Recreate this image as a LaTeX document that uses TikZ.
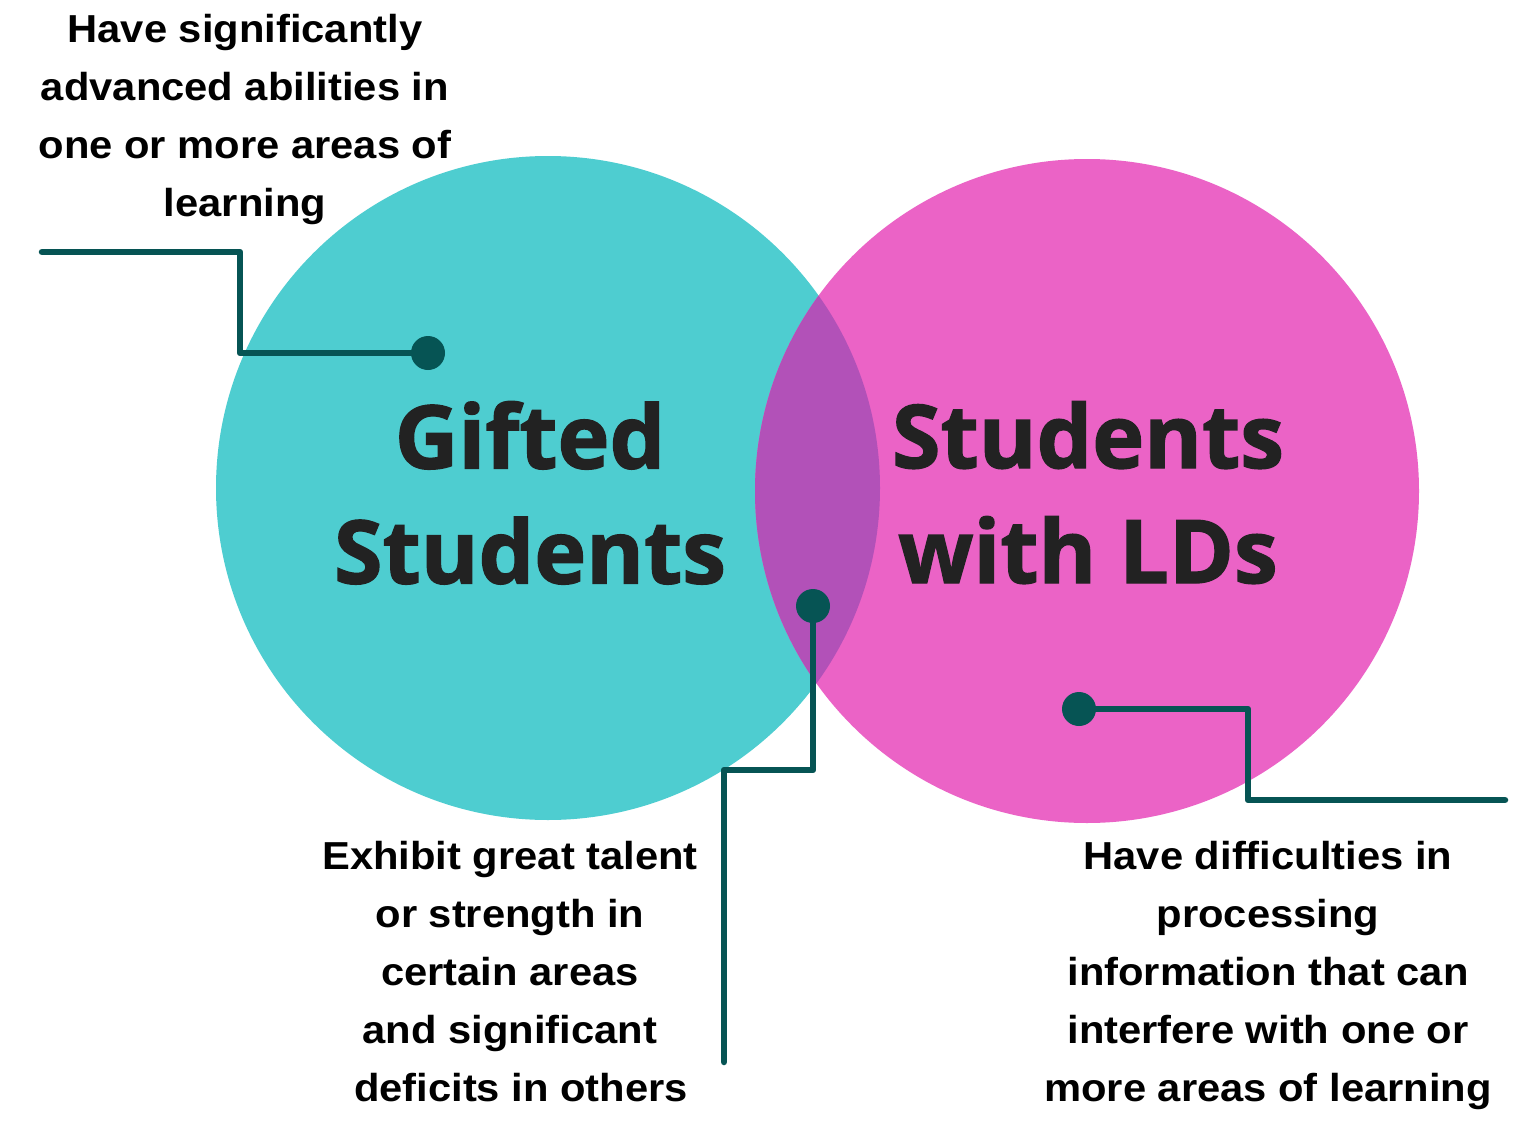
\documentclass[tikz,border=0pt]{standalone}
\usepackage{fontspec}
\setmainfont[FakeStretch=1.07]{Liberation Sans}
\newfontfamily\titlefont[FakeBold=1.5]{Open Sans}
\definecolor{tealc}{HTML}{4ECDD0}
\definecolor{pinkc}{HTML}{EB63C6}
\definecolor{overc}{HTML}{B251B8}
\definecolor{linec}{HTML}{065454}
\definecolor{titlec}{HTML}{222222}
\begin{document}
\begin{tikzpicture}[x=1pt,y=-1pt,
  circ/.style={circle,inner sep=0pt,minimum size=664pt},
  dotn/.style={circle,fill=linec,inner sep=0pt,minimum size=34pt},
  conn/.style={draw=linec,line width=6.5pt,line cap=round,line join=round},
  body/.style={align=center,inner sep=0pt,anchor=north,font=\bfseries\fontsize{39}{58}\selectfont},
  title/.style={align=center,inner sep=0pt,anchor=north,text=titlec,font=\titlefont\bfseries\fontsize{88}{115}\selectfont}]
\useasboundingbox (0,0) rectangle (1527,1124);
\fill[white] (0,0) rectangle (1527,1124);
\node[circ,fill=tealc] (gift) at (548,488) {};
\node[circ,fill=pinkc] (ld) at (1087,491) {};
\begin{scope}
  \clip (548,488) circle (332);
  \fill[overc] (1087,491) circle (332);
\end{scope}
% dots and free ends
\node[dotn] (d1) at (428,353) {};
\node[dotn] (d2) at (813,606) {};
\node[dotn] (d3) at (1079,709) {};
\coordinate (e1) at (42,252);
\coordinate (e2) at (724,1062);
\coordinate (e3) at (1505,800);
\draw[conn] (e1) -- (240,252) -- (240,353) -- (d1.center);
\draw[conn] (d2.center) -- (813,770) -- (724,770) -- (e2);
\draw[conn] (d3.center) -- (1248,709) -- (1248,800) -- (e3);
% titles
\node[title] (t1) at (530,401) {Gifted\\Students};
\node[title] (t2) at (1088,401) {Students\\with LDs};
% body texts
\node[body] (b1) at (245,14) {Have significantly\\advanced abilities in\\one or more areas of\\learning};
\node[body] (b2) at (510,841) {Exhibit great talent\\or strength in\\certain areas\\and significant\\\hspace*{22pt}deficits in others};
\node[body] (b3) at (1268,841) {Have difficulties in\\processing\\information that can\\interfere with one or\\more areas of learning};
\end{tikzpicture}
\end{document}
